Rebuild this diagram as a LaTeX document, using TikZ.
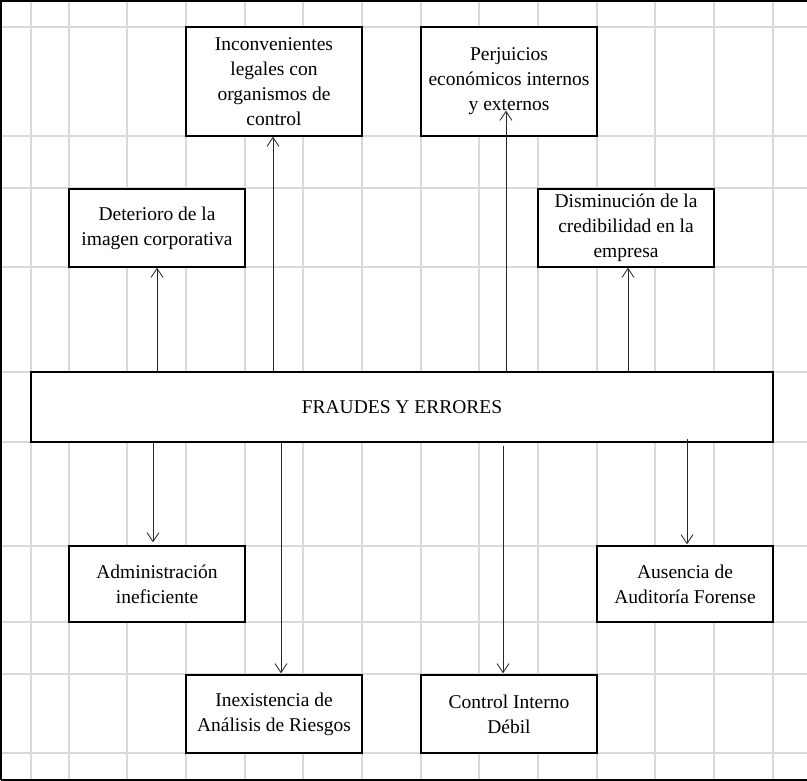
\documentclass[tikz,border=0pt]{standalone}
\usepackage{fontspec}
\setmainfont{Liberation Serif}
\usetikzlibrary{arrows.meta}
\definecolor{gridgray}{RGB}{217,217,217}
\begin{document}
\begin{tikzpicture}[x=1pt,y=-1pt,
  box/.style={draw=black, line width=1.4pt, fill=white, align=center,
    inner sep=0pt, font=\fontsize{19.5}{25}\selectfont},
  link/.style={line width=0.8pt, draw=black!85,
    -{Straight Barb[length=9pt,width=12pt,line width=0.8pt]}},
  gridline/.style={draw=gridgray, line width=1.6pt}]
\useasboundingbox (0,0) rectangle (807,781);
% spreadsheet grid
\foreach \gx in {31,69,127,186,245,303,362,421,479,538,597,655,714,773}
  \draw[gridline] (\gx,2) -- (\gx,779);
\foreach \gy in {27,136,188,267,372,442,546,622,674,753}
  \draw[gridline] (2,\gy) -- (807,\gy);
% sheet frame
\draw[line width=2pt] (1,779.5) -- (1,1) -- (807,1);
\draw[line width=2pt] (1,779.5) -- (807,779.5);
% effects
\node[box, minimum width=176pt, minimum height=109pt] (inc) at (274,81.5)
  {Inconvenientes\\legales con\\organismos de\\control};
\node[box, minimum width=176pt, minimum height=109pt] (per) at (509,81.5)
  {Perjuicios\\económicos internos\\y externos};
\node[box, minimum width=176pt, minimum height=78pt] (det) at (157,228)
  {Deterioro de la\\imagen corporativa};
\node[box, minimum width=176pt, minimum height=78pt] (dis) at (626,228)
  {Disminución de la\\credibilidad en la\\empresa};
% central problem
\node[box, minimum width=742pt, minimum height=70pt] (fra) at (402,407)
  {FRAUDES Y ERRORES};
% causes
\node[box, minimum width=176pt, minimum height=76pt] (adm) at (157,584)
  {Administración\\ineficiente};
\node[box, minimum width=176pt, minimum height=76pt] (aus) at (685,584)
  {Ausencia de\\Auditoría Forense};
\node[box, minimum width=176pt, minimum height=78pt] (ine) at (274,714)
  {Inexistencia de\\Análisis de Riesgos};
\node[box, minimum width=176pt, minimum height=78pt] (con) at (509,714)
  {Control Interno\\Débil};
% connectors upward
\draw[link] (fra.north -| 157,0) -- (det.south -| 157,0);
\draw[link] (fra.north -| 273,0) -- (inc.south -| 273,0);
\draw[link] (fra.north -| 506,0) -- ([yshift=26pt]per.south -| 506,0);
\draw[link] (fra.north -| 628,0) -- (dis.south -| 628,0);
% connectors downward
\draw[link] (fra.south -| 153,0) -- ([yshift=3pt]adm.north -| 153,0);
\draw[link] (fra.south -| 281,0) -- ([yshift=1pt]ine.north -| 281,0);
\draw[link] ([yshift=-3pt]fra.south -| 503,0) -- ([yshift=1pt]con.north -| 503,0);
\draw[link] ([yshift=4pt]fra.south -| 687,0) -- ([yshift=1pt]aus.north -| 687,0);
\end{tikzpicture}
\end{document}
